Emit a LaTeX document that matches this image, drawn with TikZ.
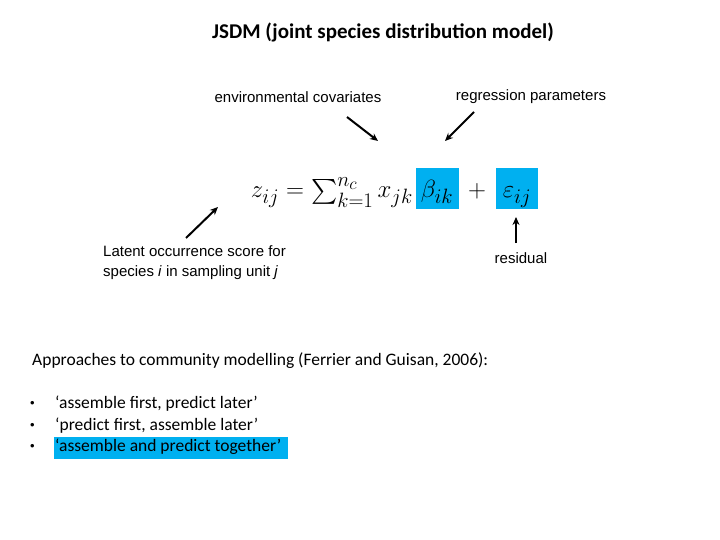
\documentclass[tikz,border=0pt]{standalone}
\usetikzlibrary{arrows.meta}
\usepackage{fontspec}
\setmainfont{Carlito}
\newfontfamily\arial{Liberation Sans}
\usepackage{amsmath}
\definecolor{hl}{HTML}{00B0F0}
\begin{document}
\begin{tikzpicture}[x=1pt,y=-1pt,
  lbl/.style={font=\arial\fontsize{15}{20}\selectfont,inner sep=0pt},
  body/.style={font=\fontsize{17.5}{20}\selectfont,inner sep=0pt,anchor=west},
  eqf/.style={inner sep=0pt,anchor=base,font=\fontsize{32}{38}\selectfont},
  arr/.style={-{Stealth[length=8pt,width=7pt]},line width=2pt}]
\useasboundingbox (0,0) rectangle (720,540);
\fill[white] (0,0) rectangle (720,540);
\node[font=\bfseries\fontsize{21}{24}\selectfont,inner sep=0pt] (title) at (383,32) {JSDM (joint species distribution model)};
\node[lbl] (env) at (298,97) {environmental covariates};
\node[lbl] (reg) at (531,97) {regression parameters};
\node[lbl,align=left,anchor=north west] (lat) at (103,245) {Latent occurrence score for\\species \textit{i} in sampling unit \textit{j}};
\node[lbl] (res) at (521,258) {residual};
\fill[hl] (416,168) rectangle (459,209);
\fill[hl] (496,168) rectangle (538,209);
\node[eqf,anchor=base east] (eq1) at (413,198) {$z_{ij} = \textstyle\sum_{k=1}^{n_c} x_{jk}$};
\node[eqf] (eq2) at (437,198) {$\beta_{ik}$};
\node[eqf] (eq3) at (477,198) {$+$};
\node[eqf] (eq4) at (517,198) {$\varepsilon_{ij}$};
\coordinate (envE) at (378,141);
\coordinate (regE) at (445,141);
\coordinate (latS) at (186,238);
\coordinate (latE) at (218,207);
\coordinate (resS) at (516,243);
\coordinate (resE) at (516,217);
\draw[arr] (347,117) -- (envE);
\draw[arr] (474,112) -- (regE);
\draw[arr] (latS) -- (latE);
\draw[arr] (resS) -- (resE);
\node[body] (appr) at (32,361) {Approaches to community modelling (Ferrier and Guisan, 2006):};
\fill[hl] (54,437) rectangle (288,459);
\foreach \y/\t [count=\i] in {404/{‘assemble first, predict later’},426/{‘predict first, assemble later’},447/{‘assemble and predict together’}}{
  \node[body,font=\arial\fontsize{13}{14}\selectfont] (b\i) at (30,\y) {•};
  \node[body] (t\i) at (55,\y) {\t};
}
\end{tikzpicture}
\end{document}
